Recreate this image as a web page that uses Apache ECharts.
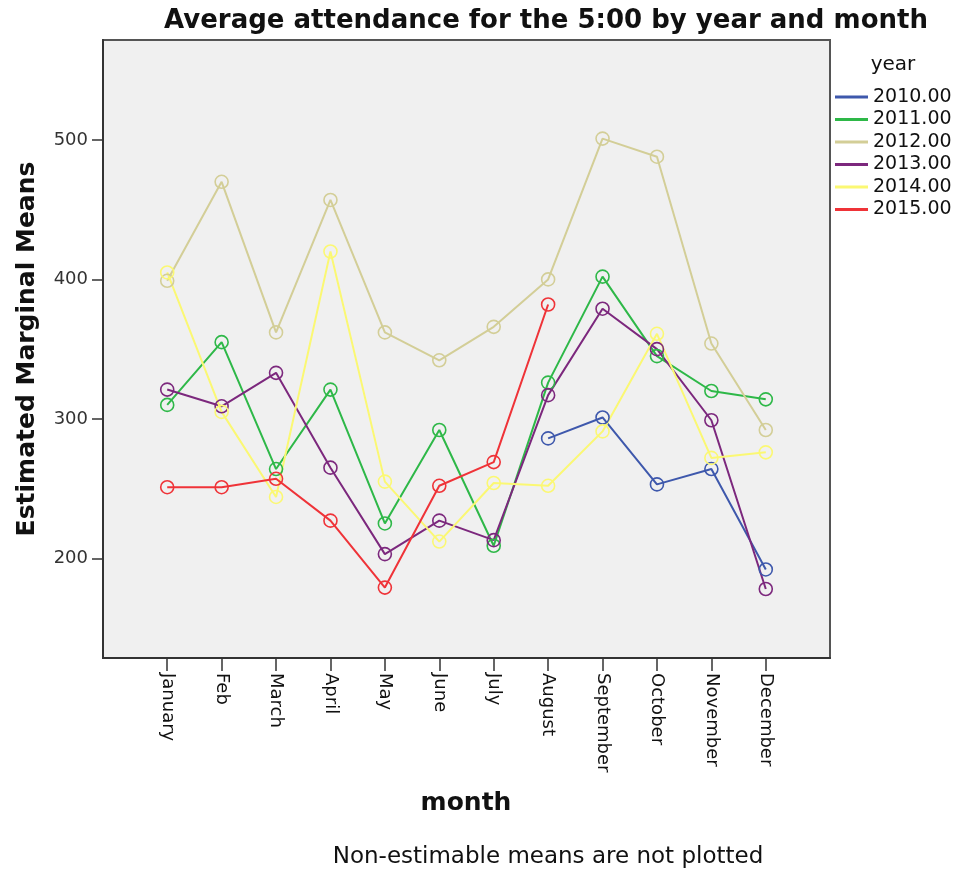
<!DOCTYPE html>
<html><head><meta charset="utf-8">
<script src="https://cdn.jsdelivr.net/npm/echarts@6/dist/echarts.min.js"></script>
<style>html,body{margin:0;padding:0;background:#fff}#c{width:960px;height:874px}</style>
</head><body><div id="c"></div>
<script>
const months = ['January','Feb','March','April','May','June','July','August','September','October','November','December'];
const years = ['2010.00','2011.00','2012.00','2013.00','2014.00','2015.00'];
const y2010 = [null,null,null,null,null,null,null,286,301,253,264,192];
const y2011 = [310,355,264,321,225,292,209,326,402,345,320,314];
const y2012 = [399,470,362,457,362,342,366,400,501,488,354,292];
const y2013 = [321,309,333,265,203,227,213,317,379,350,299,178];
const y2014 = [405,305,244,420,255,212,254,252,291,361,272,276];
const y2015 = [251,251,257,227,179,252,269,382,null,null,null,null];
const yTicks = [200,300,400,500];
const colors = ['#3E58AC','#2EB848','#D3CE97','#7C287D','#FBF873','#EF3338'];
const seriesValues = [y2010,y2011,y2012,y2013,y2014,y2015];
const monthIdx = months.map((m,i)=>i);

const FONT = '"DejaVu Sans", sans-serif';
const chart = echarts.init(document.getElementById('c'), null, {renderer:'canvas'});
chart.setOption({
  animation:false,
  backgroundColor:'#fff',
  grid:{left:103,right:130,top:40,bottom:216,show:true,backgroundColor:'#F0F0F0',borderColor:'#555',borderWidth:2},
  xAxis:{
    type:'value', min:-1.18, max:12.18,
    axisLine:{show:true,onZero:false,lineStyle:{color:'#333',width:2}},
    axisTick:{show:true,length:13,lineStyle:{color:'#333',width:1.5},customValues:monthIdx},
    axisLabel:{rotate:-90,margin:15,fontSize:18,fontFamily:FONT,color:'#111',customValues:monthIdx,
      formatter:v=>months[Math.round(v)]},
    splitLine:{show:false}
  },
  yAxis:{
    type:'value', min:128.5, max:571.7,
    axisLine:{show:true,onZero:false,lineStyle:{color:'#333',width:2}},
    axisTick:{show:true,length:11,lineStyle:{color:'#333',width:1.5},customValues:yTicks},
    axisLabel:{margin:15,fontSize:18,fontFamily:FONT,color:'#333',customValues:yTicks},
    splitLine:{show:false}
  },
  legend:{
    orient:'vertical', left:835, top:87, padding:0, icon:'rect', itemWidth:33, itemHeight:3, itemGap:2.5,
    textStyle:{fontSize:19,fontFamily:FONT,color:'#111',lineHeight:20},
    data: years.map((y,i)=>({name:y,itemStyle:{color:colors[i],borderWidth:0}}))
  },
  graphic:[
    {type:'text',x:546,y:21,style:{text:'Average attendance for the 5:00 by year and month',font:'bold 26px '+FONT,fill:'#111',align:'center',verticalAlign:'middle'}},
    {type:'text',x:27,y:349,rotation:Math.PI/2,style:{text:'Estimated Marginal Means',font:'bold 25px '+FONT,fill:'#111',align:'center',verticalAlign:'middle'}},
    {type:'text',x:466,y:803,style:{text:'month',font:'bold 25px '+FONT,fill:'#111',align:'center',verticalAlign:'middle'}},
    {type:'text',x:548,y:857,style:{text:'Non-estimable means are not plotted',font:'23px '+FONT,fill:'#111',align:'center',verticalAlign:'middle'}},
    {type:'text',x:893,y:65,style:{text:'year',font:'20px '+FONT,fill:'#111',align:'center',verticalAlign:'middle'}}
  ],
  series: years.map((y,i)=>({
    name:y, type:'line', color:colors[i],
    data: seriesValues[i].map((v,j)=>[j,v]).filter(p=>p[1]!==null),
    symbol:'circle', symbolSize:13,
    lineStyle:{color:colors[i],width:2},
    itemStyle:{color:'rgba(0,0,0,0)',borderColor:colors[i],borderWidth:1.6}
  }))
});
</script></body></html>
